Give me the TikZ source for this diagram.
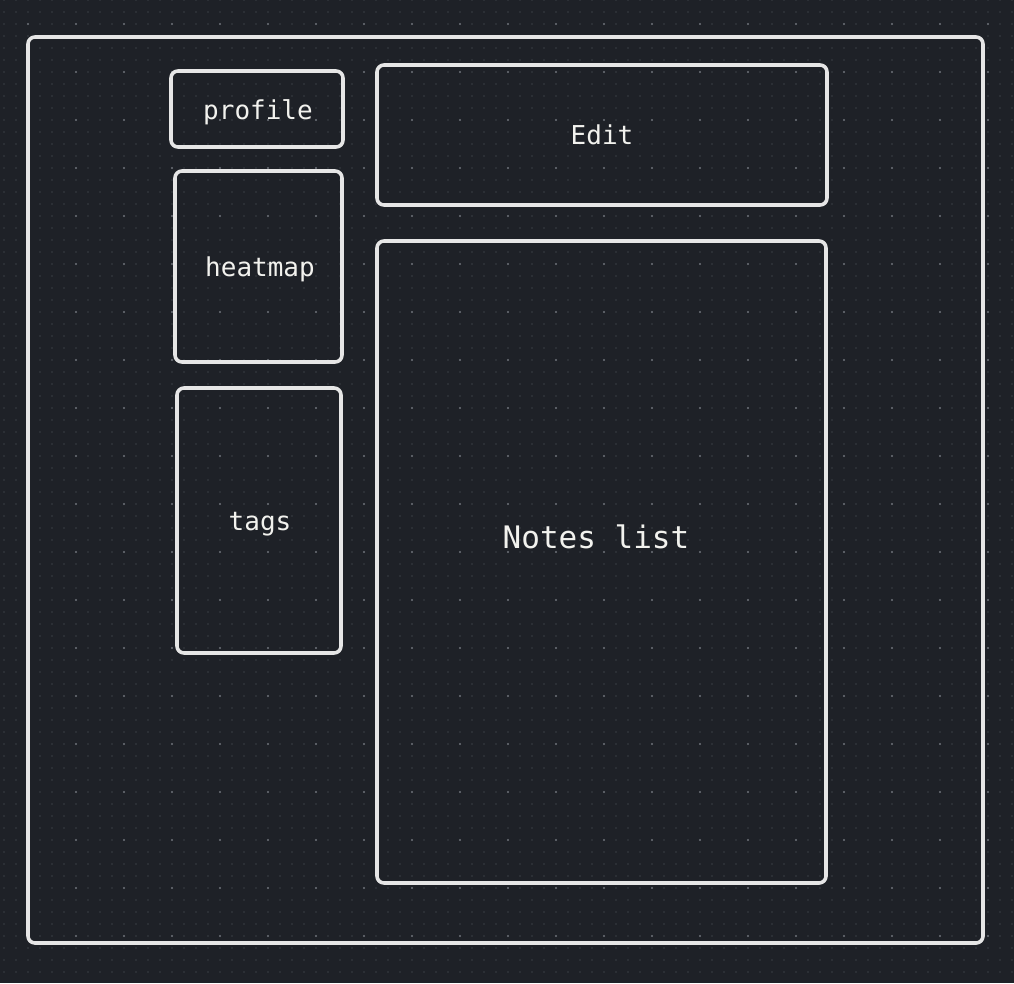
\documentclass[tikz,border=0pt]{standalone}
\usepackage{fontspec}
\setmonofont{DejaVu Sans Mono}
\definecolor{bg}{HTML}{1E2127}
\definecolor{dotc}{HTML}{3A3E45}
\definecolor{dotb}{HTML}{6B6F76}
\definecolor{strokec}{HTML}{E6E6E6}
\definecolor{textc}{HTML}{F2F2EE}
\tikzset{
  frame/.style={draw=strokec, line width=3.6pt, rounded corners=7pt},
  lbl/.style={text=textc, anchor=base, inner sep=0pt, font=\ttfamily\fontsize{26}{30}\selectfont},
  biglbl/.style={text=textc, anchor=base, inner sep=0pt, font=\ttfamily\fontsize{31}{36}\selectfont},
  dotrow/.style={draw=dotc, line width=1.8pt, line cap=round, dash pattern=on 0pt off 12pt},
  dotrowb/.style={draw=dotb, line width=2.2pt, line cap=round, dash pattern=on 0pt off 48pt},
}
\begin{document}
\begin{tikzpicture}[x=1pt,y=-1pt]
\fill[bg] (0,0) rectangle (1014,983);
\useasboundingbox (0,0) rectangle (1014,983);
% dot grid
\foreach \j in {0,...,81}{
  \draw[dotrow] (4,{12*\j}) -- (1020,{12*\j});
}
\foreach \j in {0,...,19}{
  \draw[dotrowb] (28,{24+48*\j}) -- (1020,{24+48*\j});
}
% boxes
\draw[frame] (28,37) rectangle (983,943);
\node[frame, minimum width=172pt, minimum height=76pt, inner sep=0pt] (profile) at (257,109) {};
\node[lbl] (tprofile) at (258,119) {profile};
\node[frame, minimum width=450pt, minimum height=140pt, inner sep=0pt] (edit) at (602,135) {};
\node[lbl] (tedit) at (602,144) {Edit};
\node[frame, minimum width=167pt, minimum height=191pt, inner sep=0pt] (heatmap) at (258.5,266.5) {};
\node[lbl] (theatmap) at (260,276) {heatmap};
\node[frame, minimum width=164pt, minimum height=265pt, inner sep=0pt] (tags) at (259,520.5) {};
\node[lbl] (ttags) at (260,530) {tags};
\node[frame, minimum width=449pt, minimum height=642pt, inner sep=0pt] (notes) at (601.5,562) {};
\node[biglbl] (tnotes) at (596,548) {Notes list};
\end{tikzpicture}
\end{document}
